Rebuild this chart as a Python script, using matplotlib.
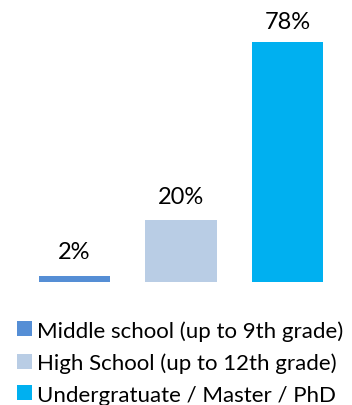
import matplotlib
matplotlib.use("Agg")
import matplotlib.pyplot as plt

categories = ["Middle school (up to 9th grade)",
              "High School (up to 12th grade)",
              "Undergratuate / Master / PhD"]
values = [2, 20, 78]
colors = ["#558ED5", "#B9CDE5", "#00B0F0"]
label_offsets = [10, 10, 7]  # points above each bar

plt.rcParams["font.family"] = ["Lato", "DejaVu Sans"]

W, H = 352, 406
dpi = 100
fig = plt.figure(figsize=(W / dpi, H / dpi), dpi=dpi)

# axes placed in pixel terms: left 21, baseline 123 px from bottom
ax = fig.add_axes([21.25 / W, 123 / H, 319.5 / W, 283 / H])
x = list(range(len(values)))
bars = ax.bar(x, values, width=0.667, color=colors, label=categories)
ax.set_xlim(-0.5, 2.5)
ax.set_ylim(0, 283 / (240 / 78))
ax.axis("off")

for b, v, off in zip(bars, values, label_offsets):
    ax.annotate(f"{v}%", (b.get_x() + b.get_width() / 2, v),
                xytext=(0, off), textcoords="offset points",
                ha="center", va="bottom", fontsize=17, color="#000000")

fig.legend(handles=list(bars), labels=categories,
           loc="upper left", bbox_to_anchor=(17 / W, 1 - 321 / H),
           frameon=False, fontsize=16, handlelength=0.66, handleheight=0.66,
           handletextpad=0.25, labelspacing=0.53, borderpad=0, borderaxespad=0)

fig.savefig("out.png", dpi=dpi)
